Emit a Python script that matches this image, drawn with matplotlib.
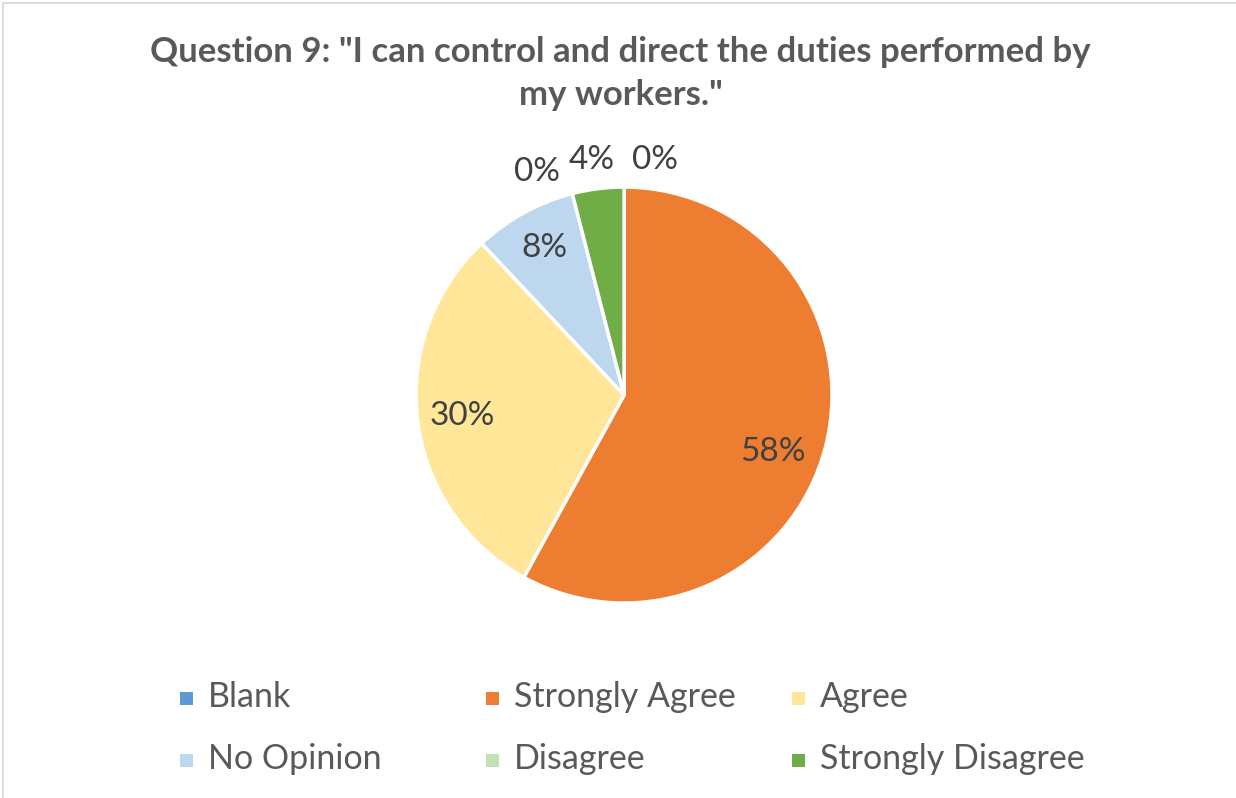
import matplotlib
matplotlib.use("Agg")
import matplotlib.pyplot as plt
from matplotlib.patches import Rectangle
from matplotlib.lines import Line2D

categories = ["Blank", "Strongly Agree", "Agree", "No Opinion", "Disagree", "Strongly Disagree"]
values = [0, 58, 30, 8, 0, 4]
labels = ["0%", "58%", "30%", "8%", "0%", "4%"]
colors = ["#5B9BD5", "#ED7D31", "#FFE699", "#BDD7EE", "#C5E0B4", "#70AD47"]
title = 'Question 9: "I can control and direct the duties performed by\nmy workers."'

FONT = ["Lato", "DejaVu Sans"]
TXT = "#595959"
W, H = 1236, 798

fig = plt.figure(figsize=(12.36, 7.98), dpi=100)
fig.patch.set_facecolor("white")
# chart border (only top and left visible)
fig.add_artist(Line2D([2.5 / W, 2.5 / W], [0, 1 - 2.5 / H], transform=fig.transFigure,
                      color="#D9D9D9", linewidth=1.3))
fig.add_artist(Line2D([2.5 / W, 1], [1 - 2.5 / H, 1 - 2.5 / H], transform=fig.transFigure,
                      color="#D9D9D9", linewidth=1.3))

fig.text(0.502, 1 - 73.5 / H, title, ha="center", va="center", fontsize=25,
         fontweight="bold", color=TXT, family=FONT, linespacing=1.41)

ax = fig.add_axes([0.3366, 0.2443, 0.3366, 0.5213])
wedges, _ = ax.pie(values, colors=colors, startangle=90, counterclock=False,
                   radius=1.0, wedgeprops=dict(edgecolor="white", linewidth=2.5))
ax.set_xlim(-1, 1)
ax.set_ylim(-1, 1)
ax.set_aspect("equal")
ax.axis("off")

# label positions (data coords relative to pie centre, radius 1)
label_pos = [(0.149, 1.130), (0.716, -0.274), (-0.779, -0.101),
             (-0.385, 0.707), (-0.418, 1.072), (-0.154, 1.130)]
for (x, y), lab in zip(label_pos, labels):
    ax.text(x, y, lab, ha="center", va="center", fontsize=24, color="#404040",
            family=FONT, clip_on=False)

# legend (manual grid)
col_x = [186, 492, 798]
row_y = [698, 760]
for i, (cat, col) in enumerate(zip(categories, colors)):
    r, c = divmod(i, 3)
    px, py = col_x[c], row_y[r]
    fig.add_artist(Rectangle(((px - 6.5) / W, 1 - (py + 6.5) / H), 13 / W, 13 / H,
                             transform=fig.transFigure, facecolor=col, edgecolor="none"))
    fig.text((px + 22) / W, 1 - (py - 1) / H, cat, ha="left", va="center", fontsize=24.5,
             color=TXT, family=FONT)

fig.savefig("out.png", dpi=100)
